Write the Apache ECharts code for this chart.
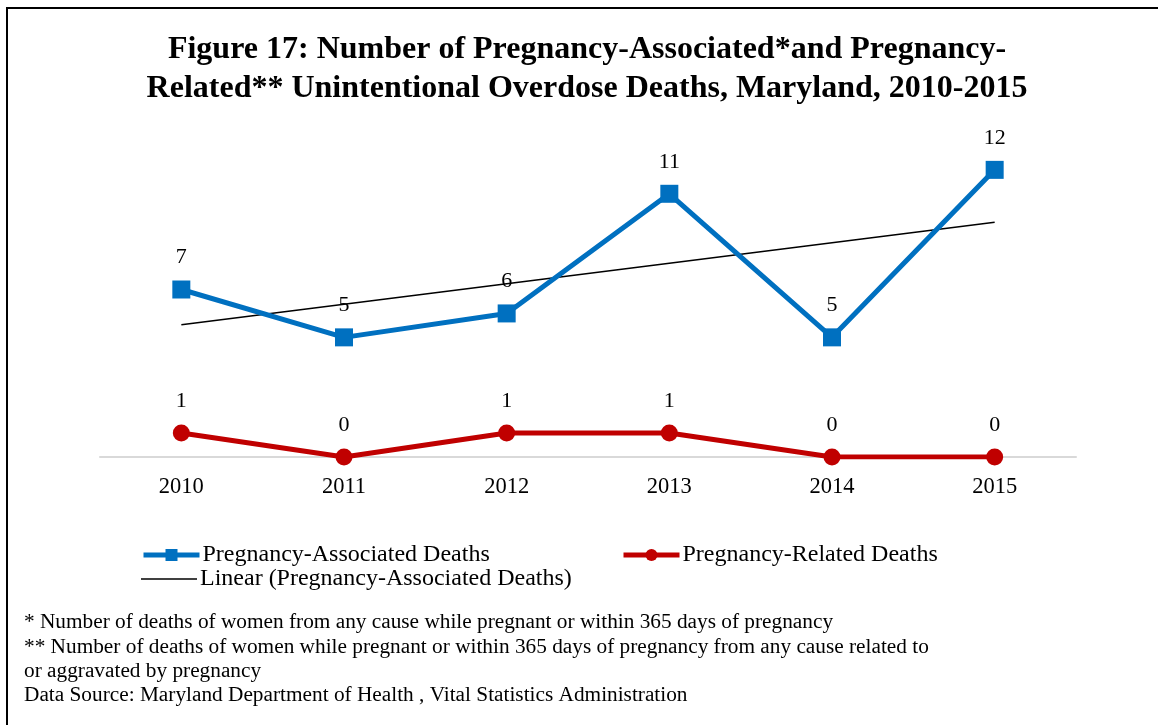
<!DOCTYPE html>
<html>
<head>
<meta charset="utf-8">
<script src="https://cdn.jsdelivr.net/npm/echarts@6/dist/echarts.min.js"></script>
<style>
  html, body { margin: 0; padding: 0; background: #fff; }
  #main { width: 1158px; height: 725px; }
</style>
</head>
<body>
<div id="main"></div>
<script>
const years = ['2010', '2011', '2012', '2013', '2014', '2015']
const associatedDeaths = [7, 5, 6, 11, 5, 12]
const relatedDeaths = [1, 0, 1, 1, 0, 0]

// least squares trend of the associated series (like Excel's "Linear" trendline)
const n = associatedDeaths.length
const meanX = (n + 1) / 2
const meanY = associatedDeaths.reduce((a, b) => a + b, 0) / n
let sxy = 0, sxx = 0
for (let i = 0; i < n; i++) {
  sxy += (i + 1 - meanX) * (associatedDeaths[i] - meanY)
  sxx += (i + 1 - meanX) * (i + 1 - meanX)
}
const slope = sxy / sxx
const trend = associatedDeaths.map((v, i) => meanY + slope * (i + 1 - meanX))

const serif = '"Liberation Serif", "DejaVu Serif", serif'
const blue = '#0070C0'
const red = '#C00000'
const legendText = { fontFamily: serif, fontSize: 24, color: '#000', padding: [0, 0, 0, -2] }
const note = '21.3px ' + serif

const chart = echarts.init(document.getElementById('main'))
const option = {
  animation: false,
  textStyle: { fontFamily: serif },
  grid: { left: 100, right: 82, top: 122, height: 335 },
  xAxis: {
    type: 'category',
    data: years,
    boundaryGap: true,
    axisLine: { lineStyle: { color: '#d9d9d9', width: 2 } },
    axisTick: { show: false },
    axisLabel: { fontFamily: serif, fontSize: 22.5, color: '#000', margin: 19 }
  },
  yAxis: {
    type: 'value',
    min: 0,
    max: 14,
    show: false
  },
  legend: [
    {
      left: 136, top: 538, itemWidth: 56, itemHeight: 15, itemGap: 5,
      lineStyle: { width: 5 },
      data: ['Pregnancy-Associated Deaths'],
      textStyle: legendText
    },
    {
      left: 616, top: 538, itemWidth: 56, itemHeight: 15,
      lineStyle: { width: 5 },
      data: ['Pregnancy-Related Deaths'],
      textStyle: legendText
    },
    {
      left: 136, top: 562, itemWidth: 56, itemHeight: 15,
      data: [{ name: 'Linear (Pregnancy-Associated Deaths)', icon: 'path://M0,0 L100,0 L100,3 L0,3 Z' }],
      textStyle: legendText
    }
  ],
  series: [
    {
      name: 'Pregnancy-Associated Deaths',
      type: 'line',
      data: associatedDeaths,
      symbol: 'rect',
      symbolSize: 18,
      itemStyle: { color: blue },
      lineStyle: { color: blue, width: 5 },
      label: {
        show: true, position: 'top', distance: 12,
        fontFamily: serif, fontSize: 22, color: '#000'
      },
      z: 3
    },
    {
      name: 'Pregnancy-Related Deaths',
      type: 'line',
      data: relatedDeaths,
      symbol: 'circle',
      symbolSize: 17,
      itemStyle: { color: red },
      lineStyle: { color: red, width: 5 },
      label: {
        show: true, position: 'top', distance: 12,
        fontFamily: serif, fontSize: 22, color: '#000'
      },
      z: 3
    },
    {
      name: 'Linear (Pregnancy-Associated Deaths)',
      type: 'line',
      data: trend,
      showSymbol: false,
      itemStyle: { color: '#000' },
      lineStyle: { color: '#000', width: 1.5 },
      z: 2
    }
  ],
  graphic: [
    { type: 'rect', shape: { x: 6, y: 7, width: 1152, height: 2 }, style: { fill: '#000' } },
    { type: 'rect', shape: { x: 6, y: 7, width: 2, height: 718 }, style: { fill: '#000' } },
    {
      type: 'text', x: 587, y: 50,
      style: {
        text: 'Figure 17: Number of Pregnancy-Associated*and Pregnancy-',
        font: 'bold 32px ' + serif, fill: '#000', align: 'center', verticalAlign: 'middle'
      }
    },
    {
      type: 'text', x: 587, y: 89,
      style: {
        text: 'Related** Unintentional Overdose Deaths, Maryland, 2010-2015',
        font: 'bold 32px ' + serif, fill: '#000', align: 'center', verticalAlign: 'middle'
      }
    },
    {
      type: 'text', x: 24, y: 622,
      style: { text: '* Number of deaths of women from any cause while pregnant or within 365 days of pregnancy', font: note, fill: '#000', verticalAlign: 'middle' }
    },
    {
      type: 'text', x: 24, y: 647,
      style: { text: '** Number of deaths of women while pregnant or within 365 days of pregnancy from any cause related to', font: note, fill: '#000', verticalAlign: 'middle' }
    },
    {
      type: 'text', x: 24, y: 671,
      style: { text: 'or aggravated by pregnancy', font: note, fill: '#000', verticalAlign: 'middle' }
    },
    {
      type: 'text', x: 24, y: 695,
      style: { text: 'Data Source: Maryland Department of Health , Vital Statistics Administration', font: note, fill: '#000', verticalAlign: 'middle' }
    }
  ]
}
chart.setOption(option)
</script>
</body>
</html>
